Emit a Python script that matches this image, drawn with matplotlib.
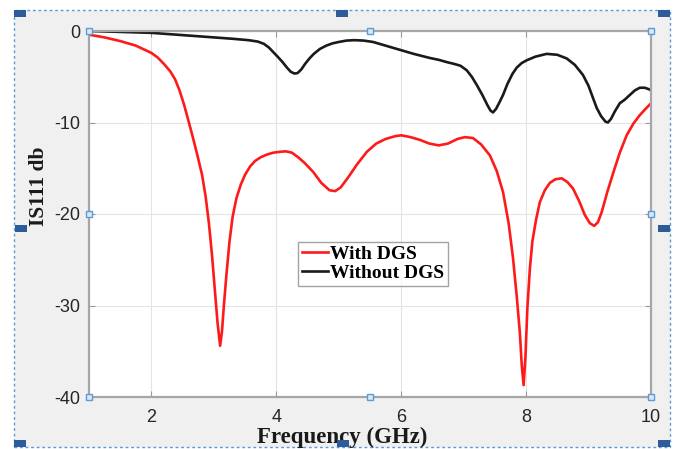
import numpy as np
import matplotlib.pyplot as plt
from matplotlib.patches import Rectangle

plt.rcParams['axes.unicode_minus'] = False

# reflection coefficient |S11| (dB) against frequency (GHz)
freq_dgs = [1.0, 1.25, 1.5, 1.75, 2.0, 2.1, 2.2, 2.3, 2.38, 2.45, 2.52, 2.6, 2.67, 2.74, 2.81,
            2.87, 2.92, 2.97, 3.02, 3.06, 3.1, 3.13, 3.16, 3.2, 3.25, 3.3, 3.36, 3.43, 3.5,
            3.58, 3.66, 3.75, 3.85, 3.95, 4.06, 4.15, 4.25, 4.35, 4.45, 4.59, 4.72, 4.85, 4.94,
            5.03, 5.15, 5.29, 5.45, 5.6, 5.75, 5.9, 6.0, 6.15, 6.3, 6.45, 6.6, 6.75, 6.9, 7.02,
            7.15, 7.28, 7.42, 7.53, 7.63, 7.72, 7.79, 7.85, 7.9, 7.93, 7.96, 7.99, 8.02, 8.06,
            8.1, 8.16, 8.22, 8.3, 8.38, 8.47, 8.57, 8.66, 8.75, 8.85, 8.94, 9.02, 9.09, 9.15,
            9.21, 9.3, 9.4, 9.5, 9.61, 9.72, 9.82, 9.9, 10.0]
s11_dgs = [-0.4, -0.7, -1.1, -1.6, -2.4, -2.9, -3.6, -4.4, -5.3, -6.5, -8.0, -10.0, -11.8,
           -13.7, -15.7, -18.2, -21.0, -24.5, -28.7, -32.0, -34.4, -32.8, -30.0, -26.7, -23.0,
           -20.3, -18.3, -16.8, -15.7, -14.8, -14.2, -13.8, -13.5, -13.3, -13.2, -13.15, -13.3,
           -13.8, -14.4, -15.4, -16.6, -17.4, -17.5, -17.1, -16.0, -14.6, -13.2, -12.3, -11.8,
           -11.5, -11.4, -11.6, -11.9, -12.3, -12.5, -12.3, -11.8, -11.6, -11.7, -12.4, -13.6,
           -15.3, -17.6, -21.0, -24.8, -29.0, -33.0, -36.5, -38.7, -35.5, -30.3, -26.0, -23.0,
           -20.6, -18.7, -17.4, -16.6, -16.2, -16.1, -16.5, -17.2, -18.6, -20.1, -21.0, -21.3,
           -20.9, -19.8, -17.6, -15.4, -13.3, -11.4, -10.1, -9.2, -8.6, -7.9]

freq_ref = [1.0, 1.5, 2.0, 2.5, 3.0, 3.3, 3.55, 3.7, 3.8, 3.88, 3.95, 4.02, 4.1, 4.17, 4.23,
            4.29, 4.34, 4.4, 4.46, 4.53, 4.6, 4.7, 4.8, 4.9, 5.0, 5.12, 5.25, 5.4, 5.55, 5.75,
            6.0, 6.2, 6.46, 6.6, 6.73, 6.85, 6.95, 7.05, 7.13, 7.21, 7.3, 7.38, 7.43, 7.47,
            7.52, 7.58, 7.63, 7.7, 7.78, 7.85, 7.93, 8.01, 8.15, 8.33, 8.5, 8.65, 8.78, 8.91,
            9.0, 9.07, 9.13, 9.2, 9.27, 9.31, 9.36, 9.42, 9.5, 9.58, 9.66, 9.74, 9.82, 9.9,
            9.98, 10.0]
s11_ref = [0.0, -0.1, -0.2, -0.45, -0.7, -0.85, -1.0, -1.15, -1.4, -1.8, -2.3, -2.8, -3.4,
           -4.0, -4.45, -4.65, -4.6, -4.2, -3.6, -3.0, -2.5, -1.95, -1.6, -1.35, -1.2, -1.05,
           -1.0, -1.05, -1.2, -1.6, -2.1, -2.5, -2.95, -3.15, -3.4, -3.6, -3.8, -4.3, -5.0,
           -5.9, -7.0, -8.1, -8.7, -8.9, -8.5, -7.7, -7.0, -5.8, -4.7, -4.0, -3.5, -3.2, -2.8,
           -2.5, -2.6, -3.0, -3.7, -4.8, -6.0, -7.3, -8.4, -9.3, -9.9, -10.0, -9.6, -8.8,
           -7.9, -7.5, -7.0, -6.5, -6.2, -6.2, -6.4, -6.5]

x_ticks = [2, 4, 6, 8, 10]
y_ticks = [0, -10, -20, -30, -40]

W, H = 674, 449
fig = plt.figure(figsize=(W / 100, H / 100), dpi=100, facecolor='white')


def box(x0, y0, x1, y1):
    # pixel corners (top-left origin) -> (xy, w, h) in figure fraction
    return (x0 / W, 1 - y1 / H), (x1 - x0) / W, (y1 - y0) / H


# grey canvas with dashed selection frame, kept behind the axes
xy, w, h = box(14, 10, 670, 447)
fig.patches.append(Rectangle(xy, w, h, transform=fig.transFigure, facecolor='#f0f0f0',
                             edgecolor='#5b9bd5', linestyle=(0, (2, 2)), linewidth=1.0,
                             zorder=-5))

xy, w, h = box(89, 31, 651, 397)
ax = fig.add_axes([xy[0], xy[1], w, h])
ax.set_facecolor('white')
ax.plot(freq_dgs, s11_dgs, color='#ff1a1a', linewidth=1.9, solid_joinstyle='round',
        label='With DGS')
ax.plot(freq_ref, s11_ref, color='#1a1a1a', linewidth=1.9, solid_joinstyle='round',
        label='Without DGS')

ax.set_xlim(1, 10)
ax.set_ylim(-40, 0)
ax.set_xticks(x_ticks)
ax.set_yticks(y_ticks)
ax.grid(True, color='#e4e4e4', linewidth=0.8)
ax.set_axisbelow(True)
ax.tick_params(direction='in', length=4, top=True, right=True, color='#9a9a9a',
               labelsize=13, labelcolor='#262626')
ax.tick_params(axis='x', pad=9)
ax.tick_params(axis='y', pad=6)
for lab in ax.get_xticklabels() + ax.get_yticklabels():
    lab.set_family('Liberation Sans')
for sp in ax.spines.values():
    sp.set_color('#a6a6a6')
    sp.set_linewidth(1.6)

ax.set_xlabel('Frequency (GHz)', family='Liberation Serif', fontweight='bold',
              fontsize=16.5, color='#1a1a1a', va='baseline')
ax.xaxis.set_label_coords(0.45, -0.1257)
ax.set_ylabel('IS111 db', family='Liberation Serif', fontweight='bold',
              fontsize=15.5, color='#1a1a1a', va='center', ha='center')
ax.yaxis.set_label_coords(-0.089, 0.577)

leg = ax.legend(loc='center', bbox_to_anchor=(0.505, 0.364), frameon=True, fancybox=False,
                prop={'family': 'Liberation Serif', 'weight': 'bold', 'size': 14},
                handlelength=1.35, handletextpad=0.1, borderpad=0.2, labelspacing=0.05,
                borderaxespad=0)
leg.get_frame().set_edgecolor('#8c8c8c')
leg.get_frame().set_linewidth(1.0)

# selection handles: dark tabs inside the outer frame, light squares on the axes box
outer = [(14, 10), (336, 10), (658, 10), (15, 225), (658, 225),
         (14, 440), (337, 440), (658, 440)]
for x0, y0 in outer:
    xy, w, h = box(x0, y0, x0 + 12, y0 + 7)
    fig.patches.append(Rectangle(xy, w, h, transform=fig.transFigure,
                                 facecolor='#2e5c9a', edgecolor='none', zorder=5))
inner = [(89, 31), (370, 31), (651, 31), (89, 214), (651, 214),
         (89, 397), (370, 397), (651, 397)]
for cx, cy in inner:
    xy, w, h = box(cx - 3, cy - 3, cx + 3, cy + 3)
    fig.patches.append(Rectangle(xy, w, h, transform=fig.transFigure,
                                 facecolor='#dbe9f7', edgecolor='#5b9bd5',
                                 linewidth=1.0, zorder=5))

fig.savefig('out.png', dpi=100, facecolor=fig.get_facecolor())
